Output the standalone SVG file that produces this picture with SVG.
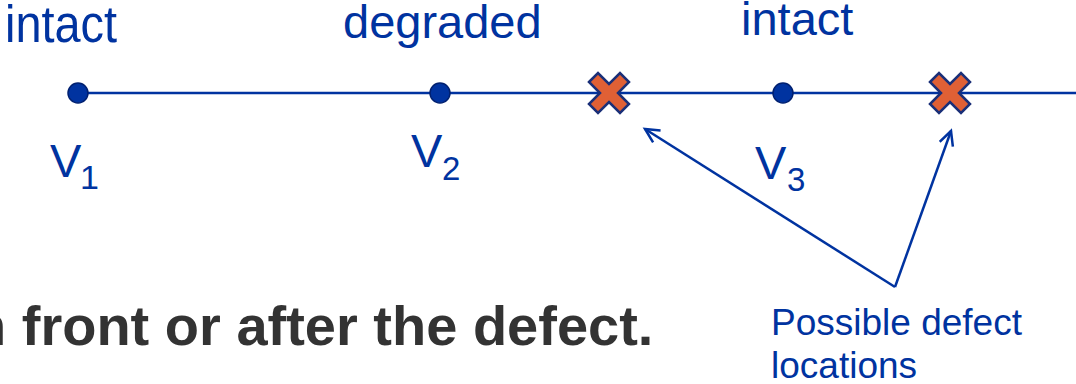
<svg xmlns="http://www.w3.org/2000/svg" width="1076" height="384" viewBox="0 0 1076 384">
<style>
.t{font-family:"Liberation Sans",Arial,sans-serif;fill:#0033A0}
.b{font-family:"Liberation Sans",Arial,sans-serif;font-weight:bold;fill:#333333}
.dot{fill:#0033A0;stroke:#002070;stroke-width:1.5}
.x{fill:#E06035;stroke:#1A2F78;stroke-width:2.5;stroke-linejoin:miter}
.ln{stroke:#0033A0;stroke-width:2.5;fill:none}
</style>
<defs>
<marker id="ah" markerWidth="18" markerHeight="18" refX="15" refY="8" orient="auto" markerUnits="userSpaceOnUse">
<path d="M1,1 L15,8 L1,15" fill="none" stroke="#0033A0" stroke-width="2.5"/>
</marker>
<polygon id="cross" points="-20,-11 -11,-20 0,-9 11,-20 20,-11 9,0 20,11 11,20 0,9 -11,20 -20,11 -9,0"/>
</defs>
<rect width="1076" height="384" fill="#ffffff"/>
<g id="connectors">
<line class="ln" x1="78" y1="93" x2="1076" y2="93"/>
<path class="ln" d="M895,287 L645,129" marker-end="url(#ah)"/>
<path class="ln" d="M895,287 L951,131" marker-end="url(#ah)"/>
</g>
<g id="v1">
<circle class="dot" cx="78" cy="93" r="10"/>
<text class="t" x="5" y="42" font-size="51" textLength="112" lengthAdjust="spacingAndGlyphs">intact</text>
<text class="t" x="50" y="177" font-size="47">V</text>
<text class="t" x="80" y="189" font-size="34">1</text>
</g>
<g id="v2">
<circle class="dot" cx="440" cy="93" r="10"/>
<text class="t" x="343" y="38" font-size="47">degraded</text>
<text class="t" x="411" y="167" font-size="47">V</text>
<text class="t" x="442" y="180" font-size="33">2</text>
</g>
<g id="v3">
<circle class="dot" cx="783" cy="93" r="10"/>
<text class="t" x="741" y="35" font-size="47">intact</text>
<text class="t" x="755" y="179" font-size="47">V</text>
<text class="t" x="787" y="191" font-size="33">3</text>
</g>
<g id="defect1"><use href="#cross" class="x" x="609" y="93"/></g>
<g id="defect2"><use href="#cross" class="x" x="950" y="93"/></g>
<g id="label">
<text class="t" x="771" y="335" font-size="37">Possible defect</text>
<text class="t" x="771" y="378" font-size="37">locations</text>
</g>
<text class="b" x="-28" y="345" font-size="56">n front or after the defect.</text>
</svg>
